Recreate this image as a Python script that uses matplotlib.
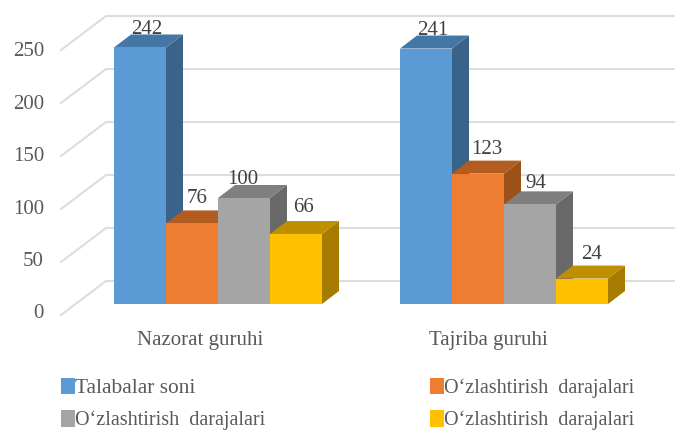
#!/usr/bin/env python3
"""Excel-style pseudo 3D clustered bars, drawn as polygons on a plain axes."""
import matplotlib
matplotlib.use("Agg")
import matplotlib.pyplot as plt
from matplotlib.patches import Patch, Polygon

plt.rcParams["font.family"] = ["Liberation Serif", "DejaVu Sans"]

GROUPS = ["Nazorat guruhi", "Tajriba guruhi"]
SERIES = ["Talabalar soni", "O\u2018zlashtirish  darajalari",
          "O\u2018zlashtirish  darajalari", "O\u2018zlashtirish  darajalari"]
NAZORAT = [242, 76, 100, 66]
TAJRIBA = [241, 123, 94, 24]
Y_TICKS = [0, 50, 100, 150, 200, 250]

# front, top, side face of each series
FRONT = ["#5B9BD5", "#ED7D31", "#A5A5A5", "#FFC000"]
TOP = ["#4377A5", "#B35C20", "#7F7F7F", "#C08F00"]
SIDE = ["#3A6389", "#9C5119", "#696969", "#A67C00"]
GRID = "#DDDDDD"
TEXT = "#595959"
LABEL = "#404040"

# scale of the front plane: one bar = 52 px, one value unit = 1.06 px
PX_X = 52.0
PX_Y = 1.06
X0_PX, Y0_PX = 218.0, 304.0  # where x=0, y=0 lands, from top left
W, H = 675, 432
GROUP_STEP = 5.5
DEPTH_X, DEPTH_Y = 17 / PX_X, 13 / PX_Y
WALL_LEFT = (106 - X0_PX) / PX_X
FLOOR_LEFT = (61 - X0_PX) / PX_X
WALL_DY = (304 - 281) / PX_Y
FLOOR_DY = (304 - 315) / PX_Y
TICK_LABEL_PX = 1.048  # tick labels are spaced a little tighter than the grid

# label nudges in px (dx, dy above the front top), per group and series
LABEL_NUDGE = [[(7, 18), (5, 25), (-1, 18), (8, 27)],
               [(7, 18), (9, 24), (6, 21), (10, 24)]]
CATEGORY_X_PX = [200, 488]


def draw_bar(ax, left, value, i):
    right = left + 1
    ax.add_patch(Polygon([(right, 0), (right + DEPTH_X, DEPTH_Y),
                          (right + DEPTH_X, value + DEPTH_Y), (right, value)],
                         facecolor=SIDE[i], edgecolor="none", zorder=3))
    ax.add_patch(Polygon([(left, value), (right, value),
                          (right + DEPTH_X, value + DEPTH_Y), (left + DEPTH_X, value + DEPTH_Y)],
                         facecolor=TOP[i], edgecolor="none", zorder=3))
    ax.add_patch(Polygon([(left, 0), (right, 0), (right, value), (left, value)],
                         facecolor=FRONT[i], edgecolor="none", zorder=3))


fig = plt.figure(figsize=(W / 100, H / 100), dpi=100)
ax = fig.add_axes([0, 0, 1, 1])
ax.set_xlim(-X0_PX / PX_X, (W - X0_PX) / PX_X)
ax.set_ylim((Y0_PX - H) / PX_Y, Y0_PX / PX_Y)
ax.axis("off")

for tick in Y_TICKS:
    ax.plot([FLOOR_LEFT, WALL_LEFT, ax.get_xlim()[1]],
            [tick + FLOOR_DY, tick + WALL_DY, tick + WALL_DY],
            color=GRID, linewidth=1.5, zorder=1)
    ax.text((44 - X0_PX) / PX_X, (-10 + tick * TICK_LABEL_PX) / PX_Y, str(tick),
            ha="right", va="center", fontsize=15, color=TEXT)

for g, values in enumerate([NAZORAT, TAJRIBA]):
    center = g * GROUP_STEP
    # zorder follows draw order, so each bar hides the side of the one before
    for i, value in enumerate(values):
        left = center - 2 + i
        draw_bar(ax, left, value, i)
    for i, value in enumerate(values):
        dx, dy = LABEL_NUDGE[g][i]
        ax.text(center - 1.5 + i + dx / PX_X, value + dy / PX_Y, str(value),
                ha="center", va="center", fontsize=15, color=LABEL, zorder=5)
    ax.text((CATEGORY_X_PX[g] - X0_PX) / PX_X, (304 - 340) / PX_Y, GROUPS[g],
            ha="center", va="center", fontsize=15, color=TEXT)

# matplotlib fills the legend column first: blue, gray, then orange, yellow
order = [0, 2, 1, 3]
handles = [Patch(facecolor=FRONT[i], edgecolor="none", label=SERIES[i]) for i in order]
legend = fig.legend(handles=handles, ncols=2, loc="upper left", frameon=False,
                    bbox_to_anchor=(61 / W, 1 - 378 / H), bbox_transform=fig.transFigure,
                    fontsize=14.5, labelcolor=TEXT, borderpad=0, borderaxespad=0,
                    handlelength=0.72, handleheight=0.85, handletextpad=0.0,
                    labelspacing=0.62, columnspacing=8.15)
legend.get_texts()[0].set_fontsize(15.4)

fig.savefig("out.png", dpi=100)
